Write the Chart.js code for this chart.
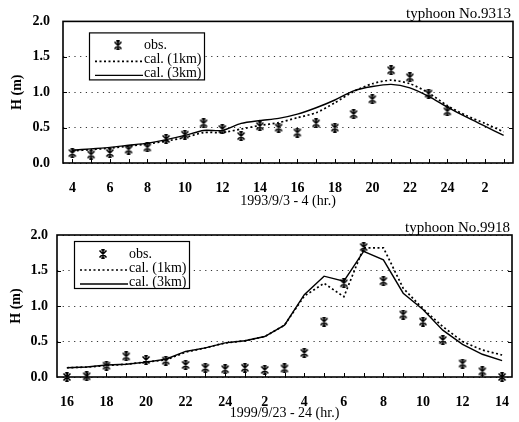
<!DOCTYPE html>
<html>
<head>
<meta charset="utf-8">
<script src="https://cdn.jsdelivr.net/npm/chart.js@4.4.1/dist/chart.umd.min.js"></script>
<style>
    html, body { margin: 0; padding: 0; background: #fff; }
    body { width: 519px; height: 422px; position: relative; overflow: hidden; }
    .box { position: absolute; left: 0; width: 519px; }
</style>
</head>
<body>
<div class="box" style="top:0;height:210px"><canvas id="chart1"></canvas></div>
<div class="box" style="top:215px;height:207px"><canvas id="chart2"></canvas></div>
<script>
// typhoon No.9313 (1993/9/3 - 4), hours counted from 0:00 on 9/3
const hours1 = [4, 5, 6, 7, 8, 9, 10, 11, 12, 13, 14, 15, 16, 17, 18, 19, 20, 21, 22, 23, 24, 25, 26, 27];
const obsHours1 = [4, 5, 6, 7, 8, 9, 10, 11, 12, 13, 14, 15, 16, 17, 18, 19, 20, 21, 22, 23, 24];
const obs1 = [0.14, 0.12, 0.14, 0.19, 0.22, 0.34, 0.40, 0.56, 0.48, 0.38, 0.52, 0.50, 0.43, 0.56, 0.50, 0.69, 0.90, 1.31, 1.21, 0.98, 0.73];
const cal1km1 = [0.17, 0.19, 0.21, 0.24, 0.27, 0.31, 0.36, 0.43, 0.43, 0.48, 0.53, 0.57, 0.64, 0.71, 0.85, 1.01, 1.12, 1.17, 1.12, 0.99, 0.81, 0.67, 0.56, 0.44];
const cal3km1 = [0.18, 0.20, 0.22, 0.25, 0.28, 0.33, 0.39, 0.46, 0.46, 0.56, 0.60, 0.63, 0.69, 0.78, 0.89, 1.02, 1.08, 1.11, 1.06, 0.94, 0.79, 0.65, 0.52, 0.39];
const xTickVals1 = [4, 6, 8, 10, 12, 14, 16, 18, 20, 22, 24, 26];
const xTickText1 = ['4', '6', '8', '10', '12', '14', '16', '18', '20', '22', '24', '2'];

// typhoon No.9918 (1999/9/23 - 24), hours counted from 0:00 on 9/23
const hours2 = [16, 17, 18, 19, 20, 21, 22, 23, 24, 25, 26, 27, 28, 29, 30, 31, 32, 33, 34, 35, 36, 37, 38];
const obs2 = [0.00, 0.01, 0.16, 0.29, 0.24, 0.23, 0.17, 0.13, 0.11, 0.13, 0.10, 0.12, 0.34, 0.78, 1.32, 1.83, 1.35, 0.88, 0.78, 0.52, 0.19, 0.08, 0.00];
const cal1km2 = [0.13, 0.14, 0.16, 0.18, 0.21, 0.24, 0.35, 0.41, 0.48, 0.51, 0.57, 0.73, 1.14, 1.32, 1.13, 1.82, 1.82, 1.25, 0.96, 0.71, 0.50, 0.38, 0.31];
const cal3km2 = [0.13, 0.14, 0.17, 0.18, 0.21, 0.25, 0.36, 0.41, 0.48, 0.51, 0.57, 0.73, 1.16, 1.42, 1.35, 1.77, 1.65, 1.18, 0.95, 0.66, 0.46, 0.32, 0.23];
const xTickVals2 = [16, 18, 20, 22, 24, 26, 28, 30, 32, 34, 36, 38];
const xTickText2 = ['16', '18', '20', '22', '24', '2', '4', '6', '8', '10', '12', '14'];

const yTickVals = [0, 0.5, 1.0, 1.5, 2.0];
const seriesNames = ['obs.', 'cal. (1km)', 'cal. (3km)'];

Chart.defaults.font.family = "'Liberation Serif', 'DejaVu Serif', serif";
Chart.defaults.color = '#000';

// asterisk-like marker used for the observations
function makeMarker() {
    const c = document.createElement('canvas');
    c.width = 10; c.height = 10;
    const g = c.getContext('2d');
    g.strokeStyle = '#000';
    g.lineWidth = 1.6;
    g.beginPath();
    g.moveTo(1.5, 1.5); g.lineTo(8.5, 8.5);
    g.moveTo(8.5, 1.5); g.lineTo(1.5, 8.5);
    g.moveTo(5, 0.5); g.lineTo(5, 9.5);
    g.moveTo(3.3, 0.9); g.lineTo(6.7, 0.9);
    g.moveTo(3.3, 9.1); g.lineTo(6.7, 9.1);
    g.stroke();
    return c;
}
const marker = makeMarker();

function pairs(xs, ys) {
    return ys.map((y, i) => ({ x: xs[i], y: y }));
}

// frame, inward ticks, title and legend box
const decorPlugin = {
    id: 'decor',
    afterDraw(chart, args, opts) {
        const { ctx, chartArea: a } = chart;
        const xs = chart.scales.x, ys = chart.scales.y;
        ctx.save();
        ctx.strokeStyle = '#000';
        ctx.lineWidth = 1.6;
        ctx.strokeRect(a.left, a.top, a.right - a.left, a.bottom - a.top);

        ctx.lineWidth = 1;
        ctx.beginPath();
        opts.hours.forEach(h => {
            const px = Math.round(xs.getPixelForValue(h)) + 0.5;
            ctx.moveTo(px, a.bottom);
            ctx.lineTo(px, a.bottom - 4);
        });
        yTickVals.slice(1, -1).forEach(v => {
            const py = Math.round(ys.getPixelForValue(v)) + 0.5;
            ctx.moveTo(a.left, py); ctx.lineTo(a.left + 4, py);
            ctx.moveTo(a.right, py); ctx.lineTo(a.right - 4, py);
        });
        ctx.stroke();

        ctx.fillStyle = '#000';
        ctx.font = "15px 'Liberation Serif'";
        ctx.textAlign = 'right';
        ctx.textBaseline = 'alphabetic';
        ctx.fillText(opts.title, a.right - 2, a.top - 3);

        // legend
        const bx = a.left + opts.legend.dx, by = a.top + opts.legend.dy;
        const bw = 115, bh = 47;
        ctx.fillStyle = '#fff';
        ctx.fillRect(bx, by, bw, bh);
        ctx.strokeStyle = '#000';
        ctx.lineWidth = 1.2;
        ctx.strokeRect(bx + 0.5, by + 0.5, bw, bh);
        const rows = [by + 13, by + 27, by + 41];
        ctx.drawImage(marker, bx + 24, rows[0] - 5);
        ctx.lineWidth = 1.6;
        ctx.setLineDash([2, 2.5]);
        ctx.beginPath();
        ctx.moveTo(bx + 6, rows[1] + 2); ctx.lineTo(bx + 54, rows[1] + 2);
        ctx.stroke();
        ctx.setLineDash([]);
        ctx.lineWidth = 1.4;
        ctx.beginPath();
        ctx.moveTo(bx + 6, rows[2] + 2); ctx.lineTo(bx + 54, rows[2] + 2);
        ctx.stroke();
        ctx.fillStyle = '#000';
        ctx.font = "14px 'Liberation Serif'";
        ctx.textAlign = 'left';
        ctx.textBaseline = 'middle';
        seriesNames.forEach((name, i) => ctx.fillText(name, bx + 55, rows[i]));
        ctx.restore();
    }
};

function makeChart(id, cfg) {
    const ctx = document.getElementById(id).getContext('2d');
    return new Chart(ctx, {
        type: 'line',
        data: {
            datasets: [{
                label: seriesNames[0],
                data: pairs(cfg.obsHours, cfg.obs),
                showLine: false,
                pointStyle: marker,
                pointRadius: 5,
                clip: 12
            }, {
                label: seriesNames[1],
                data: pairs(cfg.hours, cfg.cal1km),
                borderColor: '#000',
                borderWidth: 1.7,
                borderDash: [2, 2.5],
                pointRadius: 0,
                tension: cfg.tension
            }, {
                label: seriesNames[2],
                data: pairs(cfg.hours, cfg.cal3km),
                borderColor: '#000',
                borderWidth: 1.4,
                pointRadius: 0,
                tension: cfg.tension
            }]
        },
        options: {
            responsive: true,
            maintainAspectRatio: false,
            animation: false,
            layout: { padding: { top: cfg.padTop, right: cfg.padRight, left: 0, bottom: 0 } },
            plugins: {
                legend: { display: false },
                tooltip: { enabled: false },
                decor: { hours: cfg.hours, title: cfg.title, legend: cfg.legend }
            },
            scales: {
                x: {
                    type: 'linear',
                    min: cfg.xMin,
                    max: cfg.xMax,
                    grid: { display: false },
                    border: { display: false },
                    afterBuildTicks: (scale) => { scale.ticks = cfg.xTickVals.map(v => ({ value: v })); },
                    afterFit: (scale) => { scale.height = cfg.xHeight; },
                    ticks: {
                        autoSkip: false,
                        maxRotation: 0,
                        padding: 9,
                        font: { size: 14, weight: 'bold' },
                        callback: (v, i) => cfg.xTickText[i]
                    },
                    title: {
                        display: true,
                        text: cfg.xTitle,
                        font: { size: 14 },
                        padding: { top: 0, bottom: 0 }
                    }
                },
                y: {
                    min: 0,
                    max: 2,
                    afterBuildTicks: (scale) => { scale.ticks = yTickVals.map(v => ({ value: v })); },
                    afterFit: (scale) => { scale.width = cfg.yWidth; },
                    grid: { color: '#333', lineWidth: 1, drawTicks: false },
                    border: { display: false, dash: [1.2, 4.5] },
                    ticks: {
                        padding: cfg.yTickPad,
                        font: { size: 14, weight: 'bold' },
                        callback: (v) => v.toFixed(1)
                    },
                    title: {
                        display: true,
                        text: 'H (m)',
                        font: { size: 14, weight: 'bold' },
                        padding: { top: cfg.yTitlePad, bottom: 0 }
                    }
                }
            }
        },
        plugins: [decorPlugin]
    });
}

makeChart('chart1', {
    hours: hours1, obsHours: obsHours1, obs: obs1, cal1km: cal1km1, cal3km: cal3km1,
    xTickVals: xTickVals1, xTickText: xTickText1,
    xMin: 3.5, xMax: 27.5, tension: 0.25,
    title: 'typhoon No.9313', xTitle: '1993/9/3 - 4 (hr.)',
    padTop: 17, padRight: 4, yWidth: 63, xHeight: 47,
    yTickPad: 13, yTitlePad: 9,
    legend: { dx: 26, dy: 11 }
});

makeChart('chart2', {
    hours: hours2, obsHours: hours2, obs: obs2, cal1km: cal1km2, cal3km: cal3km2,
    xTickVals: xTickVals2, xTickText: xTickText2,
    xMin: 15.5, xMax: 38.5, tension: 0,
    title: 'typhoon No.9918', xTitle: '1999/9/23 - 24 (hr.)',
    padTop: 20, padRight: 7, yWidth: 57, xHeight: 45,
    yTickPad: 9, yTitlePad: 8,
    legend: { dx: 17, dy: 6 }
});
</script>
</body>
</html>
